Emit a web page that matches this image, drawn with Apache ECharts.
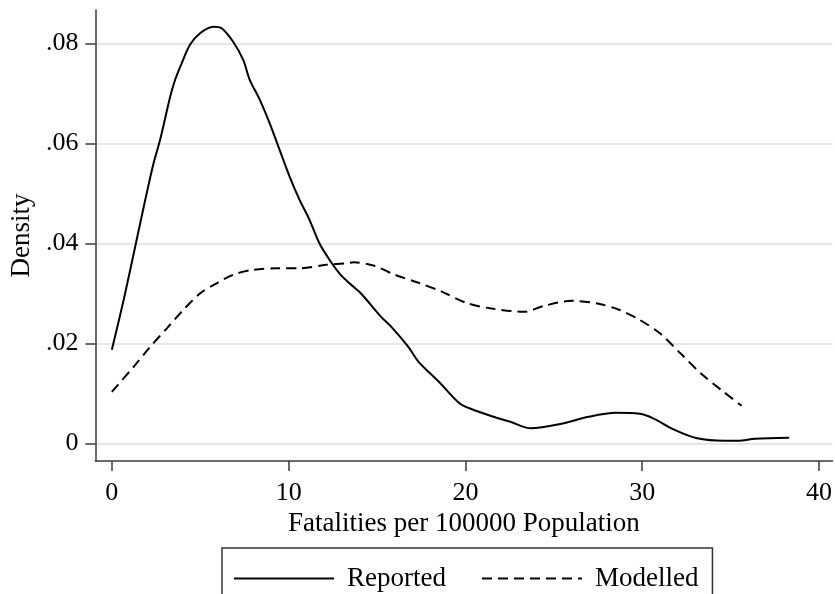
<!DOCTYPE html>
<html>
<head>
<meta charset="utf-8">
<script src="https://cdn.jsdelivr.net/npm/echarts@6/dist/echarts.min.js"></script>
<style>
  html, body { margin: 0; padding: 0; background: #fff; }
  #chart { width: 835px; height: 594px; }
</style>
</head>
<body>
<div id="chart"></div>
<script>
// Kernel density of fatalities per 100000 population
const reportedX = [0, 0.67, 1.32, 1.89, 2.36, 2.73, 3.30, 3.58, 3.95, 4.42, 4.99, 5.74, 6.21, 6.86, 7.43, 7.80, 8.37, 8.93, 9.49, 10.06, 10.62, 11.18, 11.74, 12.31, 12.87, 13.44, 14.08, 15.23, 15.81, 16.77, 17.35, 18.50, 19.66, 20.23, 21.58, 22.54, 23.70, 25.43, 26.96, 28.50, 29.85, 30.62, 31.77, 33.11, 34.65, 35.42, 36.38, 38.31];
const reportedY = [0.0187, 0.0287, 0.0393, 0.0487, 0.0560, 0.0607, 0.0693, 0.0727, 0.0760, 0.0797, 0.0820, 0.0833, 0.0830, 0.0803, 0.0767, 0.0727, 0.0687, 0.0640, 0.0587, 0.0533, 0.0487, 0.0447, 0.0400, 0.0367, 0.0340, 0.0320, 0.0300, 0.0253, 0.0233, 0.0193, 0.0163, 0.0123, 0.0080, 0.0070, 0.0053, 0.0043, 0.0030, 0.0039, 0.0053, 0.0061, 0.0059, 0.0050, 0.0028, 0.0010, 0.0005, 0.0005, 0.0009, 0.0011];

const modelledX = [0, 1.23, 2.17, 3.11, 4.05, 5.00, 5.93, 6.86, 7.99, 9.31, 10.62, 12.12, 13.25, 13.70, 14.85, 16.01, 17.35, 18.69, 20.04, 21.39, 23.31, 24.46, 26.00, 27.54, 28.69, 29.85, 31.00, 32.16, 33.31, 34.46, 35.62];
const modelledY = [0.0103, 0.0153, 0.0193, 0.0230, 0.0267, 0.0300, 0.0320, 0.0337, 0.0347, 0.0350, 0.0350, 0.0357, 0.0360, 0.0362, 0.0355, 0.0337, 0.0321, 0.0303, 0.0281, 0.0270, 0.0263, 0.0275, 0.0285, 0.0279, 0.0267, 0.0247, 0.0220, 0.0180, 0.0140, 0.0107, 0.0075];

const xTickValues = [0, 10, 20, 30, 40];
const xTickLabels = ['0', '10', '20', '30', '40'];
const yTickValues = [0, 0.02, 0.04, 0.06, 0.08];
const yTickLabels = ['0', '.02', '.04', '.06', '.08'];

const seriesNames = ['Reported', 'Modelled'];
const xTitle = 'Fatalities per 100000 Population';
const yTitle = 'Density';

function pairs(xs, ys) {
  return xs.map((x, i) => [x, ys[i]]);
}
function labelFor(values, labels) {
  return function (v) {
    for (let i = 0; i < values.length; i++) {
      if (Math.abs(values[i] - v) < 1e-9) return labels[i];
    }
    return '';
  };
}

const FONT = 'Liberation Serif';
const AXIS_COLOR = '#3a3a3a';

const chart = echarts.init(document.getElementById('chart'), null, { renderer: 'canvas' });
chart.setOption({
  animation: false,
  backgroundColor: '#ffffff',
  textStyle: { fontFamily: FONT, color: '#000' },
  grid: { left: 95, top: 10, width: 740, height: 451, containLabel: false },
  legend: {
    left: 222,
    top: 548,
    orient: 'horizontal',
    itemWidth: 100,
    itemHeight: 14,
    itemGap: 35,
    padding: [17, 14, 40, 11],
    borderColor: '#333',
    borderWidth: 1.5,
    borderRadius: 0,
    // line-only keys: the marker symbol drawn on the key line is hidden
    itemStyle: { opacity: 0, color: 'rgba(0,0,0,0)', borderColor: 'rgba(0,0,0,0)', borderWidth: 0 },
    textStyle: { fontFamily: FONT, fontSize: 27, color: '#000', padding: [0, 0, 0, 8] },
    data: seriesNames
  },
  xAxis: {
    type: 'value',
    min: -0.93,
    max: 40.76,
    name: xTitle,
    nameLocation: 'middle',
    nameGap: 46,
    nameTextStyle: { fontFamily: FONT, fontSize: 27, color: '#000' },
    axisLine: { show: true, onZero: false, lineStyle: { color: AXIS_COLOR, width: 1.5 } },
    axisTick: { show: true, length: 10, inside: false, customValues: xTickValues, lineStyle: { color: AXIS_COLOR, width: 1.5 } },
    axisLabel: { customValues: xTickValues, margin: 19, fontFamily: FONT, fontSize: 26, color: '#000', formatter: labelFor(xTickValues, xTickLabels) },
    splitLine: { show: false }
  },
  yAxis: {
    type: 'value',
    min: -0.00354,
    max: 0.08666,
    name: yTitle,
    nameLocation: 'middle',
    nameRotate: 90,
    nameGap: 57,
    nameTextStyle: { fontFamily: FONT, fontSize: 27, color: '#000' },
    axisLine: { show: true, onZero: false, lineStyle: { color: AXIS_COLOR, width: 1.5 } },
    axisTick: { show: true, length: 10, inside: false, customValues: yTickValues, lineStyle: { color: AXIS_COLOR, width: 1.5 } },
    axisLabel: { customValues: yTickValues, margin: 17, fontFamily: FONT, fontSize: 26, color: '#000', formatter: labelFor(yTickValues, yTickLabels) },
    splitLine: { show: true, lineStyle: { color: '#e6e6e6', width: 2 } }
  },
  series: [
    {
      name: seriesNames[0],
      type: 'line',
      data: pairs(reportedX, reportedY),
      smooth: 0.3,
      symbol: 'none',
      lineStyle: { color: '#000', width: 2, type: 'solid' },
      itemStyle: { color: '#000' },
      z: 3
    },
    {
      name: seriesNames[1],
      type: 'line',
      data: pairs(modelledX, modelledY),
      smooth: 0.3,
      symbol: 'none',
      lineStyle: { color: '#000', width: 2, type: [10, 6] },
      itemStyle: { color: '#000' },
      z: 3
    }
  ]
});
</script>
</body>
</html>
